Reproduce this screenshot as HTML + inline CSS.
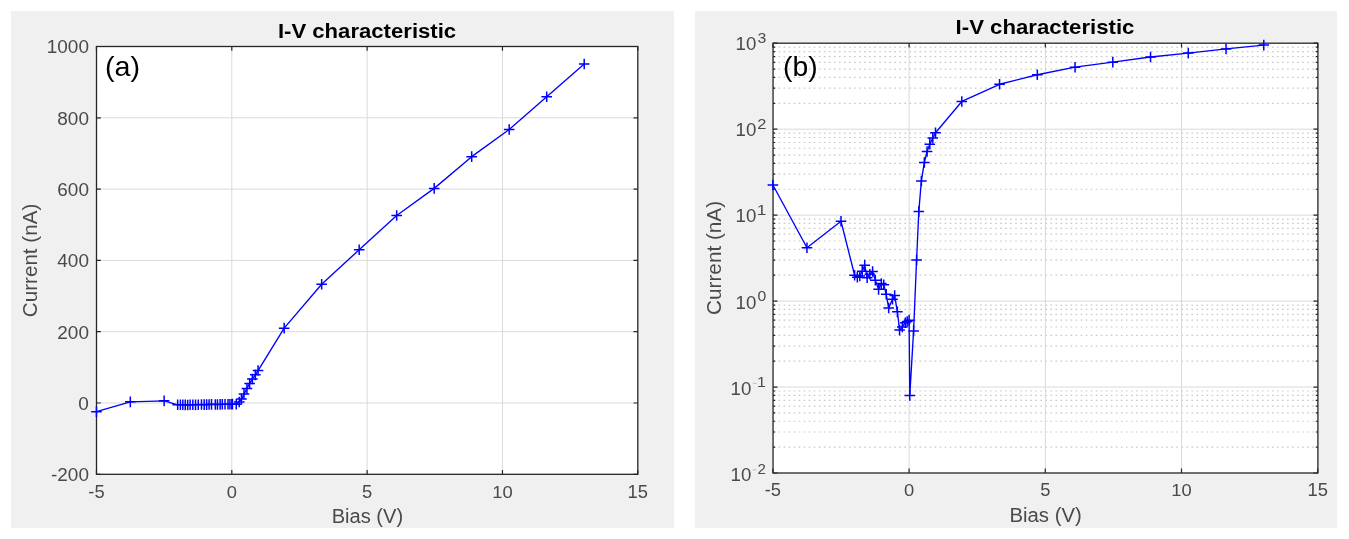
<!DOCTYPE html>
<html><head><meta charset="utf-8"><style>
html,body{margin:0;padding:0;background:#fff;width:1349px;height:539px;overflow:hidden;position:relative}
text{font-family:"Liberation Sans",sans-serif}
</style></head><body>
<svg width="1349" height="539" viewBox="0 0 1349 539" style="position:absolute;left:0;top:0;filter:blur(0.35px)" font-family="Liberation Sans, sans-serif">
<rect x="0" y="0" width="1349" height="539" fill="#ffffff"/>
<rect x="11" y="11" width="663" height="517" fill="#f0f0f0"/>
<rect x="695" y="11" width="642" height="517" fill="#f0f0f0"/>
<rect x="96.5" y="46.5" width="541.3" height="427.8" fill="#ffffff"/>
<line x1="231.80" y1="46.5" x2="231.80" y2="474.3" stroke="#d9d9d9" stroke-width="1"/>
<line x1="367.12" y1="46.5" x2="367.12" y2="474.3" stroke="#d9d9d9" stroke-width="1"/>
<line x1="502.45" y1="46.5" x2="502.45" y2="474.3" stroke="#d9d9d9" stroke-width="1"/>
<line x1="96.5" y1="117.80" x2="637.8" y2="117.80" stroke="#d9d9d9" stroke-width="1"/>
<line x1="96.5" y1="189.10" x2="637.8" y2="189.10" stroke="#d9d9d9" stroke-width="1"/>
<line x1="96.5" y1="260.40" x2="637.8" y2="260.40" stroke="#d9d9d9" stroke-width="1"/>
<line x1="96.5" y1="331.70" x2="637.8" y2="331.70" stroke="#d9d9d9" stroke-width="1"/>
<line x1="96.5" y1="403.00" x2="637.8" y2="403.00" stroke="#d9d9d9" stroke-width="1"/>
<path d="M96.47 474.3v-4.3M96.47 46.5v4.3M231.80 474.3v-4.3M231.80 46.5v4.3M367.12 474.3v-4.3M367.12 46.5v4.3M502.45 474.3v-4.3M502.45 46.5v4.3M637.78 474.3v-4.3M637.78 46.5v4.3M96.5 46.50h4.3M637.8 46.50h-4.3M96.5 117.80h4.3M637.8 117.80h-4.3M96.5 189.10h4.3M637.8 189.10h-4.3M96.5 260.40h4.3M637.8 260.40h-4.3M96.5 331.70h4.3M637.8 331.70h-4.3M96.5 403.00h4.3M637.8 403.00h-4.3M96.5 474.30h4.3M637.8 474.30h-4.3" stroke="#262626" stroke-width="1.2" fill="none"/>
<rect x="96.5" y="46.5" width="541.3" height="427.8" fill="none" stroke="#262626" stroke-width="1.3"/>
<polyline points="96.47,411.70 130.31,401.87 164.14,400.86 177.67,404.78 180.38,404.75 182.81,404.77 185.25,404.86 187.68,405.00 190.12,404.74 192.83,404.80 195.53,404.86 198.24,404.69 201.49,404.56 204.19,404.64 206.63,404.62 209.07,404.50 211.50,404.37 215.29,404.44 217.46,404.48 220.16,404.34 222.33,404.23 225.03,404.25 228.01,404.27 229.91,404.28 231.80,404.28 232.48,404.10 236.27,404.23 239.24,401.93 241.44,399.08 243.98,394.09 246.96,388.38 249.66,383.39 252.37,379.11 255.35,374.84 258.05,370.56 284.17,328.13 321.67,284.29 359.18,249.71 396.68,215.48 434.19,188.39 471.69,156.66 509.19,129.56 546.70,96.77 584.20,63.97" fill="none" stroke="#0000ff" stroke-width="1.35" stroke-linejoin="round"/>
<path d="M91.17 411.70h10.6M96.47 406.40v10.6M125.01 401.87h10.6M130.31 396.57v10.6M158.84 400.86h10.6M164.14 395.56v10.6M172.37 404.78h10.6M177.67 399.48v10.6M175.08 404.75h10.6M180.38 399.45v10.6M177.51 404.77h10.6M182.81 399.47v10.6M179.95 404.86h10.6M185.25 399.56v10.6M182.38 405.00h10.6M187.68 399.70v10.6M184.82 404.74h10.6M190.12 399.44v10.6M187.53 404.80h10.6M192.83 399.50v10.6M190.23 404.86h10.6M195.53 399.56v10.6M192.94 404.69h10.6M198.24 399.39v10.6M196.19 404.56h10.6M201.49 399.26v10.6M198.89 404.64h10.6M204.19 399.34v10.6M201.33 404.62h10.6M206.63 399.32v10.6M203.77 404.50h10.6M209.07 399.20v10.6M206.20 404.37h10.6M211.50 399.07v10.6M209.99 404.44h10.6M215.29 399.14v10.6M212.16 404.48h10.6M217.46 399.18v10.6M214.86 404.34h10.6M220.16 399.04v10.6M217.03 404.23h10.6M222.33 398.93v10.6M219.73 404.25h10.6M225.03 398.95v10.6M222.71 404.27h10.6M228.01 398.97v10.6M224.61 404.28h10.6M229.91 398.98v10.6M226.50 404.28h10.6M231.80 398.98v10.6M227.18 404.10h10.6M232.48 398.80v10.6M230.97 404.23h10.6M236.27 398.93v10.6M233.94 401.93h10.6M239.24 396.63v10.6M236.14 399.08h10.6M241.44 393.78v10.6M238.68 394.09h10.6M243.98 388.79v10.6M241.66 388.38h10.6M246.96 383.08v10.6M244.36 383.39h10.6M249.66 378.09v10.6M247.07 379.11h10.6M252.37 373.81v10.6M250.05 374.84h10.6M255.35 369.54v10.6M252.75 370.56h10.6M258.05 365.26v10.6M278.87 328.13h10.6M284.17 322.83v10.6M316.37 284.29h10.6M321.67 278.99v10.6M353.88 249.71h10.6M359.18 244.41v10.6M391.38 215.48h10.6M396.68 210.18v10.6M428.89 188.39h10.6M434.19 183.09v10.6M466.39 156.66h10.6M471.69 151.36v10.6M503.89 129.56h10.6M509.19 124.26v10.6M541.40 96.77h10.6M546.70 91.47v10.6M578.90 63.97h10.6M584.20 58.67v10.6" fill="none" stroke="#0000ff" stroke-width="1.5"/>
<text x="46.76" y="53.37" font-size="17.94" font-weight="normal" fill="#4a4a4a" textLength="42.19" lengthAdjust="spacingAndGlyphs">1000</text>
<text x="57.30" y="124.67" font-size="17.94" font-weight="normal" fill="#4a4a4a" textLength="31.64" lengthAdjust="spacingAndGlyphs">800</text>
<text x="57.30" y="195.97" font-size="17.94" font-weight="normal" fill="#4a4a4a" textLength="31.64" lengthAdjust="spacingAndGlyphs">600</text>
<text x="57.30" y="267.27" font-size="17.94" font-weight="normal" fill="#4a4a4a" textLength="31.64" lengthAdjust="spacingAndGlyphs">400</text>
<text x="57.30" y="338.57" font-size="17.94" font-weight="normal" fill="#4a4a4a" textLength="31.64" lengthAdjust="spacingAndGlyphs">200</text>
<text x="78.39" y="409.87" font-size="17.94" font-weight="normal" fill="#4a4a4a" textLength="10.55" lengthAdjust="spacingAndGlyphs">0</text>
<text x="50.99" y="481.17" font-size="17.94" font-weight="normal" fill="#4a4a4a" textLength="37.95" lengthAdjust="spacingAndGlyphs">-200</text>
<text x="88.31" y="497.73" font-size="17.63" font-weight="normal" fill="#4a4a4a" textLength="16.33" lengthAdjust="spacingAndGlyphs">-5</text>
<text x="226.69" y="497.73" font-size="17.37" font-weight="normal" fill="#4a4a4a" textLength="10.21" lengthAdjust="spacingAndGlyphs">0</text>
<text x="362.02" y="497.73" font-size="17.63" font-weight="normal" fill="#4a4a4a" textLength="10.21" lengthAdjust="spacingAndGlyphs">5</text>
<text x="492.24" y="497.73" font-size="17.37" font-weight="normal" fill="#4a4a4a" textLength="20.43" lengthAdjust="spacingAndGlyphs">10</text>
<text x="627.56" y="497.73" font-size="17.63" font-weight="normal" fill="#4a4a4a" textLength="20.43" lengthAdjust="spacingAndGlyphs">15</text>
<text x="331.65" y="522.80" font-size="19.91" font-weight="normal" fill="#4a4a4a" textLength="71.50" lengthAdjust="spacingAndGlyphs">Bias (V)</text>
<text transform="translate(37.00,316.10) rotate(-90)" x="-1.05" y="0" font-size="19.62" fill="#4a4a4a" textLength="113.43" lengthAdjust="spacingAndGlyphs">Current (nA)</text>
<text x="277.92" y="37.80" font-size="20.35" font-weight="bold" fill="#000000" textLength="178.23" lengthAdjust="spacingAndGlyphs">I-V characteristic</text>
<text x="105.02" y="75.58" font-size="27.16" font-weight="normal" fill="#000000" textLength="35.06" lengthAdjust="spacingAndGlyphs">(a)</text>
<rect x="773.05" y="43.2" width="544.8500000000001" height="429.8" fill="#ffffff"/>
<path d="M773.05 447.14H1317.9M773.05 432.01H1317.9M773.05 421.27H1317.9M773.05 412.94H1317.9M773.05 406.13H1317.9M773.05 400.38H1317.9M773.05 395.39H1317.9M773.05 390.99H1317.9M773.05 361.18H1317.9M773.05 346.05H1317.9M773.05 335.31H1317.9M773.05 326.98H1317.9M773.05 320.17H1317.9M773.05 314.42H1317.9M773.05 309.43H1317.9M773.05 305.03H1317.9M773.05 275.22H1317.9M773.05 260.09H1317.9M773.05 249.35H1317.9M773.05 241.02H1317.9M773.05 234.21H1317.9M773.05 228.46H1317.9M773.05 223.47H1317.9M773.05 219.07H1317.9M773.05 189.26H1317.9M773.05 174.13H1317.9M773.05 163.39H1317.9M773.05 155.06H1317.9M773.05 148.25H1317.9M773.05 142.50H1317.9M773.05 137.51H1317.9M773.05 133.11H1317.9M773.05 103.30H1317.9M773.05 88.17H1317.9M773.05 77.43H1317.9M773.05 69.10H1317.9M773.05 62.29H1317.9M773.05 56.54H1317.9M773.05 51.55H1317.9M773.05 47.15H1317.9" stroke="#c8c8c8" stroke-width="1.2" stroke-dasharray="1.6 3.435" stroke-dashoffset="4.57" fill="none"/>
<line x1="909.10" y1="43.2" x2="909.10" y2="473.0" stroke="#d9d9d9" stroke-width="1"/>
<line x1="1045.30" y1="43.2" x2="1045.30" y2="473.0" stroke="#d9d9d9" stroke-width="1"/>
<line x1="1181.50" y1="43.2" x2="1181.50" y2="473.0" stroke="#d9d9d9" stroke-width="1"/>
<line x1="773.05" y1="129.18" x2="1317.9" y2="129.18" stroke="#d9d9d9" stroke-width="1"/>
<line x1="773.05" y1="215.14" x2="1317.9" y2="215.14" stroke="#d9d9d9" stroke-width="1"/>
<line x1="773.05" y1="301.10" x2="1317.9" y2="301.10" stroke="#d9d9d9" stroke-width="1"/>
<line x1="773.05" y1="387.06" x2="1317.9" y2="387.06" stroke="#d9d9d9" stroke-width="1"/>
<path d="M772.90 473.0v-4.4M772.90 43.2v4.4M909.10 473.0v-4.4M909.10 43.2v4.4M1045.30 473.0v-4.4M1045.30 43.2v4.4M1181.50 473.0v-4.4M1181.50 43.2v4.4M1317.70 473.0v-4.4M1317.70 43.2v4.4M773.05 473.02h4.4M1317.9 473.02h-4.4M773.05 387.06h4.4M1317.9 387.06h-4.4M773.05 301.10h4.4M1317.9 301.10h-4.4M773.05 215.14h4.4M1317.9 215.14h-4.4M773.05 129.18h4.4M1317.9 129.18h-4.4M773.05 43.22h4.4M1317.9 43.22h-4.4" stroke="#262626" stroke-width="1.2" fill="none"/>
<path d="M773.05 447.14h2.2M1317.9 447.14h-2.2M773.05 432.01h2.2M1317.9 432.01h-2.2M773.05 421.27h2.2M1317.9 421.27h-2.2M773.05 412.94h2.2M1317.9 412.94h-2.2M773.05 406.13h2.2M1317.9 406.13h-2.2M773.05 400.38h2.2M1317.9 400.38h-2.2M773.05 395.39h2.2M1317.9 395.39h-2.2M773.05 390.99h2.2M1317.9 390.99h-2.2M773.05 361.18h2.2M1317.9 361.18h-2.2M773.05 346.05h2.2M1317.9 346.05h-2.2M773.05 335.31h2.2M1317.9 335.31h-2.2M773.05 326.98h2.2M1317.9 326.98h-2.2M773.05 320.17h2.2M1317.9 320.17h-2.2M773.05 314.42h2.2M1317.9 314.42h-2.2M773.05 309.43h2.2M1317.9 309.43h-2.2M773.05 305.03h2.2M1317.9 305.03h-2.2M773.05 275.22h2.2M1317.9 275.22h-2.2M773.05 260.09h2.2M1317.9 260.09h-2.2M773.05 249.35h2.2M1317.9 249.35h-2.2M773.05 241.02h2.2M1317.9 241.02h-2.2M773.05 234.21h2.2M1317.9 234.21h-2.2M773.05 228.46h2.2M1317.9 228.46h-2.2M773.05 223.47h2.2M1317.9 223.47h-2.2M773.05 219.07h2.2M1317.9 219.07h-2.2M773.05 189.26h2.2M1317.9 189.26h-2.2M773.05 174.13h2.2M1317.9 174.13h-2.2M773.05 163.39h2.2M1317.9 163.39h-2.2M773.05 155.06h2.2M1317.9 155.06h-2.2M773.05 148.25h2.2M1317.9 148.25h-2.2M773.05 142.50h2.2M1317.9 142.50h-2.2M773.05 137.51h2.2M1317.9 137.51h-2.2M773.05 133.11h2.2M1317.9 133.11h-2.2M773.05 103.30h2.2M1317.9 103.30h-2.2M773.05 88.17h2.2M1317.9 88.17h-2.2M773.05 77.43h2.2M1317.9 77.43h-2.2M773.05 69.10h2.2M1317.9 69.10h-2.2M773.05 62.29h2.2M1317.9 62.29h-2.2M773.05 56.54h2.2M1317.9 56.54h-2.2M773.05 51.55h2.2M1317.9 51.55h-2.2M773.05 47.15h2.2M1317.9 47.15h-2.2" stroke="#262626" stroke-width="1.2" fill="none"/>
<rect x="773.05" y="43.2" width="544.8500000000001" height="429.8" fill="none" stroke="#262626" stroke-width="1.3"/>
<polyline points="772.90,185.03 806.95,247.79 841.00,221.21 854.62,275.22 857.34,277.14 859.80,275.98 862.25,271.16 864.70,265.14 867.15,277.73 869.87,274.30 872.60,271.50 875.32,280.21 878.59,289.35 881.32,283.55 883.77,284.74 886.22,294.29 888.67,308.06 892.48,299.28 894.66,295.56 897.39,311.84 899.57,330.09 902.29,326.98 905.29,322.75 907.19,321.44 909.10,320.17 909.78,395.39 913.59,330.91 916.59,260.09 918.80,211.58 921.36,180.93 924.35,162.47 927.08,151.50 929.80,144.13 932.80,137.98 935.52,132.70 961.81,101.48 999.56,84.27 1037.30,74.73 1075.05,67.20 1112.80,62.17 1150.54,57.02 1188.29,53.12 1226.03,48.89 1263.78,45.10" fill="none" stroke="#0000ff" stroke-width="1.35" stroke-linejoin="round"/>
<path d="M767.60 185.03h10.6M772.90 179.73v10.6M801.65 247.79h10.6M806.95 242.49v10.6M835.70 221.21h10.6M841.00 215.91v10.6M849.32 275.22h10.6M854.62 269.92v10.6M852.04 277.14h10.6M857.34 271.84v10.6M854.50 275.98h10.6M859.80 270.68v10.6M856.95 271.16h10.6M862.25 265.86v10.6M859.40 265.14h10.6M864.70 259.84v10.6M861.85 277.73h10.6M867.15 272.43v10.6M864.57 274.30h10.6M869.87 269.00v10.6M867.30 271.50h10.6M872.60 266.20v10.6M870.02 280.21h10.6M875.32 274.91v10.6M873.29 289.35h10.6M878.59 284.05v10.6M876.02 283.55h10.6M881.32 278.25v10.6M878.47 284.74h10.6M883.77 279.44v10.6M880.92 294.29h10.6M886.22 288.99v10.6M883.37 308.06h10.6M888.67 302.76v10.6M887.18 299.28h10.6M892.48 293.98v10.6M889.36 295.56h10.6M894.66 290.26v10.6M892.09 311.84h10.6M897.39 306.54v10.6M894.27 330.09h10.6M899.57 324.79v10.6M896.99 326.98h10.6M902.29 321.68v10.6M899.99 322.75h10.6M905.29 317.45v10.6M901.89 321.44h10.6M907.19 316.14v10.6M903.80 320.17h10.6M909.10 314.87v10.6M904.48 395.39h10.6M909.78 390.09v10.6M908.29 330.91h10.6M913.59 325.61v10.6M911.29 260.09h10.6M916.59 254.79v10.6M913.50 211.58h10.6M918.80 206.28v10.6M916.06 180.93h10.6M921.36 175.63v10.6M919.05 162.47h10.6M924.35 157.17v10.6M921.78 151.50h10.6M927.08 146.20v10.6M924.50 144.13h10.6M929.80 138.83v10.6M927.50 137.98h10.6M932.80 132.68v10.6M930.22 132.70h10.6M935.52 127.40v10.6M956.51 101.48h10.6M961.81 96.18v10.6M994.26 84.27h10.6M999.56 78.97v10.6M1032.00 74.73h10.6M1037.30 69.43v10.6M1069.75 67.20h10.6M1075.05 61.90v10.6M1107.50 62.17h10.6M1112.80 56.87v10.6M1145.24 57.02h10.6M1150.54 51.72v10.6M1182.99 53.12h10.6M1188.29 47.82v10.6M1220.73 48.89h10.6M1226.03 43.59v10.6M1258.48 45.10h10.6M1263.78 39.80v10.6" fill="none" stroke="#0000ff" stroke-width="1.5"/>
<text x="735.58" y="49.83" font-size="17.66" font-weight="normal" fill="#4a4a4a" textLength="20.75" lengthAdjust="spacingAndGlyphs">10</text>
<text x="757.50" y="42.56" font-size="14.83" font-weight="normal" fill="#4a4a4a" textLength="8.80" lengthAdjust="spacingAndGlyphs">3</text>
<text x="735.58" y="136.13" font-size="17.66" font-weight="normal" fill="#4a4a4a" textLength="20.75" lengthAdjust="spacingAndGlyphs">10</text>
<text x="757.27" y="129.00" font-size="15.04" font-weight="normal" fill="#4a4a4a" textLength="9.16" lengthAdjust="spacingAndGlyphs">2</text>
<text x="735.58" y="222.43" font-size="17.66" font-weight="normal" fill="#4a4a4a" textLength="20.75" lengthAdjust="spacingAndGlyphs">10</text>
<text x="756.77" y="214.50" font-size="14.10" font-weight="normal" fill="#4a4a4a" textLength="9.67" lengthAdjust="spacingAndGlyphs">1</text>
<text x="735.58" y="308.73" font-size="17.66" font-weight="normal" fill="#4a4a4a" textLength="20.75" lengthAdjust="spacingAndGlyphs">10</text>
<text x="757.49" y="301.46" font-size="14.83" font-weight="normal" fill="#4a4a4a" textLength="8.73" lengthAdjust="spacingAndGlyphs">0</text>
<text x="730.58" y="395.03" font-size="17.66" font-weight="normal" fill="#4a4a4a" textLength="20.75" lengthAdjust="spacingAndGlyphs">10</text>
<rect x="752.8" y="382.90" width="3.7" height="1.1" fill="#c4c4c4"/>
<text x="756.98" y="387.10" font-size="14.24" font-weight="normal" fill="#4a4a4a" textLength="8.90" lengthAdjust="spacingAndGlyphs">1</text>
<text x="730.58" y="481.33" font-size="17.66" font-weight="normal" fill="#4a4a4a" textLength="20.75" lengthAdjust="spacingAndGlyphs">10</text>
<rect x="752.8" y="469.20" width="3.7" height="1.1" fill="#c4c4c4"/>
<text x="757.44" y="474.20" font-size="15.18" font-weight="normal" fill="#4a4a4a" textLength="8.42" lengthAdjust="spacingAndGlyphs">2</text>
<text x="764.73" y="496.43" font-size="17.63" font-weight="normal" fill="#4a4a4a" textLength="16.33" lengthAdjust="spacingAndGlyphs">-5</text>
<text x="903.99" y="496.43" font-size="17.37" font-weight="normal" fill="#4a4a4a" textLength="10.21" lengthAdjust="spacingAndGlyphs">0</text>
<text x="1040.19" y="496.43" font-size="17.63" font-weight="normal" fill="#4a4a4a" textLength="10.21" lengthAdjust="spacingAndGlyphs">5</text>
<text x="1171.29" y="496.43" font-size="17.37" font-weight="normal" fill="#4a4a4a" textLength="20.43" lengthAdjust="spacingAndGlyphs">10</text>
<text x="1307.49" y="496.43" font-size="17.63" font-weight="normal" fill="#4a4a4a" textLength="20.43" lengthAdjust="spacingAndGlyphs">15</text>
<text x="1009.43" y="521.50" font-size="19.91" font-weight="normal" fill="#4a4a4a" textLength="72.33" lengthAdjust="spacingAndGlyphs">Bias (V)</text>
<text transform="translate(720.70,313.90) rotate(-90)" x="-1.05" y="0" font-size="19.77" fill="#4a4a4a" textLength="114.04" lengthAdjust="spacingAndGlyphs">Current (nA)</text>
<text x="955.62" y="33.60" font-size="20.06" font-weight="bold" fill="#000000" textLength="178.83" lengthAdjust="spacingAndGlyphs">I-V characteristic</text>
<text x="783.14" y="75.78" font-size="27.16" font-weight="normal" fill="#000000" textLength="34.61" lengthAdjust="spacingAndGlyphs">(b)</text>
</svg>
</body></html>
